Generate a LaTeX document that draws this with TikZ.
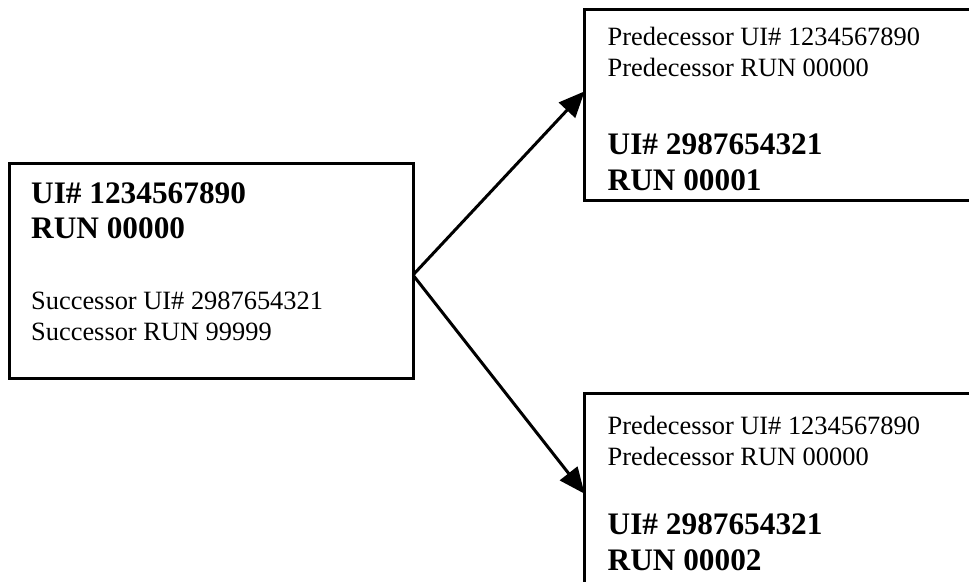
\documentclass[tikz,border=0pt]{standalone}
\usepackage{fontspec}
\setmainfont{Liberation Serif}
\usetikzlibrary{arrows.meta}
\tikzset{
  boxline/.style={draw=black, line width=3pt},
  reg/.style={anchor=base west, inner sep=0pt, font=\fontsize{26.4}{30}\selectfont},
  big/.style={anchor=base west, inner sep=0pt, font=\fontsize{31.3}{36}\selectfont\bfseries},
  link/.style={line width=3pt, -{Triangle[length=26pt,width=22pt]}, shorten >=-1pt}
}
\begin{document}
\begin{tikzpicture}[x=1pt,y=-1pt]
\useasboundingbox (0,0) rectangle (969,581);
\clip (0,0) rectangle (969,581);
% boxes
\draw[boxline] (9.5,163) rectangle (413,378);
\draw[boxline] (584,9.5) rectangle (1000,200);
\draw[boxline] (584,393) rectangle (1000,640);
% left box text
\node[big] (l1) at (31,203.3) {UI\# 1234567890};
\node[big] (l2) at (31,238.7) {RUN 00000};
\node[reg] (l3) at (31,309.3) {Successor UI\# 2987654321};
\node[reg] (l4) at (31,340) {Successor RUN 99999};
% top right text
\node[reg] (a1) at (607.5,45.3) {Predecessor UI\# 1234567890};
\node[reg] (a2) at (607.5,76.3) {Predecessor RUN 00000};
\node[big] (a3) at (607.5,154.7) {UI\# 2987654321};
\node[big] (a4) at (607.5,190) {RUN 00001};
% bottom right text
\node[reg] (b1) at (607.5,434.7) {Predecessor UI\# 1234567890};
\node[reg] (b2) at (607.5,465.5) {Predecessor RUN 00000};
\node[big] (b3) at (607.5,534.7) {UI\# 2987654321};
\node[big] (b4) at (607.5,570) {RUN 00002};
% connectors
\coordinate (src) at (413,275);
\coordinate (dtop) at (584,92);
\coordinate (dbot) at (584,493);
\draw[link] (src) -- (dtop);
\draw[link] (src) -- (dbot);
\end{tikzpicture}
\end{document}
